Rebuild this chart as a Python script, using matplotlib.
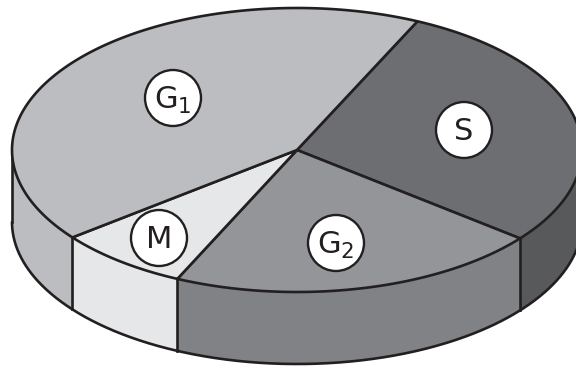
import numpy as np
import matplotlib
matplotlib.use("Agg")
import matplotlib.pyplot as plt
from matplotlib.patches import Polygon, Circle

# cell cycle phases, going clockwise from the top right spoke
phases = ["S", "G2", "M", "G1"]
shares = [28.75, 21.2, 7.55, 42.5]
top_colors = ["#6d6e71", "#939598", "#e6e7e8", "#bcbdc0"]
side_colors = ["#58595b", "#808285", "#e6e7e8", "#bcbdc0"]
label_text = [r"S", r"G$_2$", r"M", r"G$_1$"]
label_x = [464, 336, 159, 173]
label_y = [130, 243, 238, 98]

cx, cy = 297, 150
rx, ry = 285, 142
depth = 72
start_angle = 65
ink = "#231f20"

plt.rcParams["mathtext.default"] = "regular"

fig = plt.figure(figsize=(5.76, 3.67), dpi=100)
ax = fig.add_axes([0, 0, 1, 1])
ax.set_xlim(0, 576)
ax.set_ylim(367, 0)
ax.axis("off")


def rim(a):
    a = np.radians(a)
    return cx + rx * np.cos(a), cy - ry * np.sin(a)


edges = start_angle - np.cumsum([0] + shares) * 3.6

# side wall first, only the part of the rim facing us (0 to -180 degrees)
for i in range(4):
    th = np.linspace(min(edges[i], 0), max(edges[i + 1], -180), 200)
    x, y = rim(th)
    pts = np.r_[np.c_[x, y], np.c_[x, y + depth][::-1]]
    ax.add_patch(Polygon(pts, closed=True, fc=side_colors[i], ec="none", zorder=1))
    ax.plot(x, y + depth, color=ink, lw=1.9, zorder=2, solid_capstyle="round")

# vertical edges of the wall
for a in list(edges[1:4]) + [180, 360]:
    x, y = rim(a)
    ax.plot([x, x], [y, y + depth], color=ink, lw=1.9, zorder=2)

# top surface
for i in range(4):
    th = np.linspace(edges[i], edges[i + 1], 200)
    x, y = rim(th)
    pts = np.r_[[[cx, cy]], np.c_[x, y]]
    ax.add_patch(Polygon(pts, closed=True, fc=top_colors[i], ec=ink, lw=1.9,
                         joinstyle="round", zorder=3))

for t, lx, ly in zip(label_text, label_x, label_y):
    ax.add_patch(Circle((lx, ly), 28, fc="white", ec=ink, lw=1.7, zorder=4))
    ax.text(lx, ly + 2, t, ha="center", va="center", fontsize=22, color=ink,
            family="DejaVu Sans", zorder=5)

fig.savefig("out.png", dpi=100)
